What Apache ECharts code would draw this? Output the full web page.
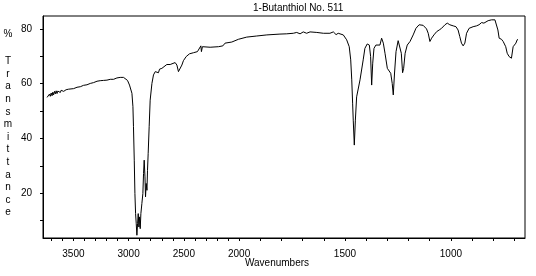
<!DOCTYPE html>
<html>
<head>
<meta charset="utf-8">
<script src="https://cdn.jsdelivr.net/npm/echarts@6/dist/echarts.min.js"></script>
<style>html,body{margin:0;padding:0;background:#fff;}#c{width:536px;height:276px;}</style>
</head>
<body>
<div id="c"></div>
<script>
// Wavenumbers (cm-1) and % transmittance
const wavenumbers = [
  3738,3731,3724,3717,3709,3701,3693,3686,3679,3671,3663,3656,3648,3641,3634,3626,3618,3611,3603,3596,
  3588,3581,3573,3566,3558,3543,3528,3498,3467,3437,3408,3377,3347,
  3317,3286,3257,3227,3196,3166,3136,3106,3076,3046,3031,3010,3001,2992,2985,2970,2961,2956,2949,2943,
  2937,2931,2925,2919,2913,2907,2901,2895,2889,2880,2871,2865,2859,2852,2847,2841,2834,2829,2823,2814,
  2805,2789,2775,2759,2744,2730,2720,2699,2684,2654,2624,2608,2579,2563,2549,2533,2518,2504,2479,2449,
  2413,2377,2359,2346,2341,2332,2316,2262,2187,2147,2127,2066,2006,1964,1917,1869,1862,1807,1775,1744,
  1728,1712,1697,1681,1665,1633,1602,1571,1555,1542,1532,1508,1492,1480,1473,1468,1464,1461,1456,1451,
  1445,1429,1414,1406,1395,1385,1379,1374,1369,1363,1354,1335,1327,1319,1311,1300,1284,1277,1272,1266,
  1259,1249,1241,1234,1228,1223,1216,1206,1193,1178,1165,1150,1131,1115,1107,1099,1091,1080,1067,1055,
  1044,1028,1017,1005,989,976,966,958,950,942,934,926,914,895,879,867,855,844,835,824,
  808,792,784,778,772,761,753,745,741,734,730,725,718,714,709,706,698,693,687,683
];
const transmittance = [
  55.0,55.6,55.2,56.2,55.4,56.6,55.6,56.9,55.9,57.2,56.3,57.4,56.4,57.3,56.7,57.5,56.8,57.6,57.1,57.6,
  57.2,57.9,57.5,57.8,57.5,58.0,57.9,58.2,58.7,58.9,59.4,59.6,60.1,
  60.4,60.9,61.1,61.2,61.3,61.6,61.6,62.1,62.3,62.3,62.0,61.2,60.7,59.5,58.9,56.5,51.6,44.3,32.1,19.9,
  12.6,8.9,4.7,8.9,12.6,7.7,11.4,7.1,12.6,16.3,19.9,27.2,32.1,26.0,18.7,23.6,21.1,28.4,34.6,44.3,
  54.0,60.1,63.2,64.4,65.0,64.0,65.3,65.6,66.3,67.0,67.0,67.2,67.7,66.8,64.4,64.4,66.8,68.4,69.9,70.9,
  71.3,71.7,72.1,73.8,71.7,73.5,72.9,73.3,73.5,73.8,74.8,75.2,76.2,77.0,77.4,77.8,78.2,78.1,78.2,78.4,
  78.7,78.2,78.9,78.4,78.9,78.7,78.4,78.4,78.9,77.9,78.4,77.8,76.0,73.5,68.7,61.4,52.9,46.7,37.6,46.7,
  55.2,61.4,68.7,72.9,74.5,74.1,69.9,59.5,67.5,72.9,74.1,74.1,76.6,74.8,71.1,65.6,63.8,60.1,55.9,63.9,
  71.7,75.7,75.7,71.1,64.0,65.6,71.1,74.1,75.4,77.8,80.2,81.5,81.3,80.0,78.4,75.4,76.6,77.8,79.0,79.6,
  80.2,81.5,82.1,81.5,81.1,80.8,79.6,77.2,74.8,73.8,74.8,78.4,80.2,80.8,81.1,81.5,82.3,82.1,82.3,83.0,
  83.3,83.3,82.7,79.6,76.6,76.2,75.4,76.0,73.5,71.1,71.7,69.9,70.5,69.3,69.9,73.5,74.1,74.8,76.0,76.2
];
const xTickValues = [3700,3600,3500,3400,3300,3200,3100,3000,2900,2800,2700,2600,2500,2400,2300,2200,2100,2000,
  1900,1800,1700,1600,1500,1400,1300,1200,1100,1000,900,800,700];
const xLabelValues = [3500,3000,2500,2000,1500,1000];
const yTickValues = [10,20,30,40,50,60,70,80];
const yLabelValues = [20,40,60,80];
const titleText = '1-Butanthiol No. 511';
const xName = 'Wavenumbers';
const yName = ['T','r','a','n','s','m','i','t','t','a','n','c','e'];

// Below 2000 cm-1 the scale is expanded (~2x), as in the reference.
const EXPAND = 1.917;
function toAxis(w){ return w >= 2000 ? w : 2000 - (2000 - w) * EXPAND; }
function fromAxis(u){ return u >= 2000 ? u : 2000 - (2000 - u) / EXPAND; }

const seriesData = wavenumbers.map((w, i) => [toAxis(w), transmittance[i]]);
const tickFamily = "'Liberation Sans Narrow', 'Liberation Sans', Arial, sans-serif";
const textFont = "10px 'Liberation Sans', Arial, sans-serif";

const chart = echarts.init(document.getElementById('c'), null, {renderer: 'canvas'});
chart.setOption({
  animation: false,
  backgroundColor: '#fff',
  grid: {left: 43, top: 16, right: 11, bottom: 38, show: true, borderColor: '#000', borderWidth: 1, backgroundColor: 'transparent'},
  xAxis: {
    type: 'value', inverse: true,
    min: toAxis(650), max: toAxis(3775),
    axisLine: {show: true, onZero: false, lineStyle: {color: '#000', width: 1}},
    axisTick: {show: true, inside: false, length: 3, lineStyle: {color: '#000'}, customValues: xTickValues.map(toAxis)},
    axisLabel: {show: true, margin: 11, color: '#000', fontFamily: tickFamily, fontSize: 10,
      customValues: xLabelValues.map(toAxis),
      formatter: v => String(Math.round(fromAxis(v)))},
    splitLine: {show: false}
  },
  yAxis: {
    type: 'value', min: 3.7, max: 84.7,
    axisLine: {show: true, onZero: false, lineStyle: {color: '#000', width: 1}},
    axisTick: {show: true, inside: false, length: 3, lineStyle: {color: '#000'}, customValues: yTickValues},
    axisLabel: {show: true, margin: 11, color: '#000', fontFamily: tickFamily, fontSize: 10,
      customValues: yLabelValues},
    splitLine: {show: false}
  },
  series: [{
    type: 'line', data: seriesData, showSymbol: false, symbol: 'none',
    lineStyle: {color: '#000', width: 1}, silent: true
  }],
  graphic: [
    {type: 'text', top: 3, left: 253, style: {text: titleText, font: textFont, fill: '#000'}},
    {type: 'text', style: {text: '%', x: 8, y: 34, font: textFont, fill: '#000', align: 'center', verticalAlign: 'middle'}},
    {type: 'text', style: {text: yName.join('\n'), x: 8, y: 137, font: textFont, lineHeight: 12.6, fill: '#000', align: 'center', verticalAlign: 'middle'}},
    {type: 'text', style: {text: xName, x: 277, y: 263, font: textFont, fill: '#000', align: 'center', verticalAlign: 'middle'}}
  ]
});
</script>
</body>
</html>
